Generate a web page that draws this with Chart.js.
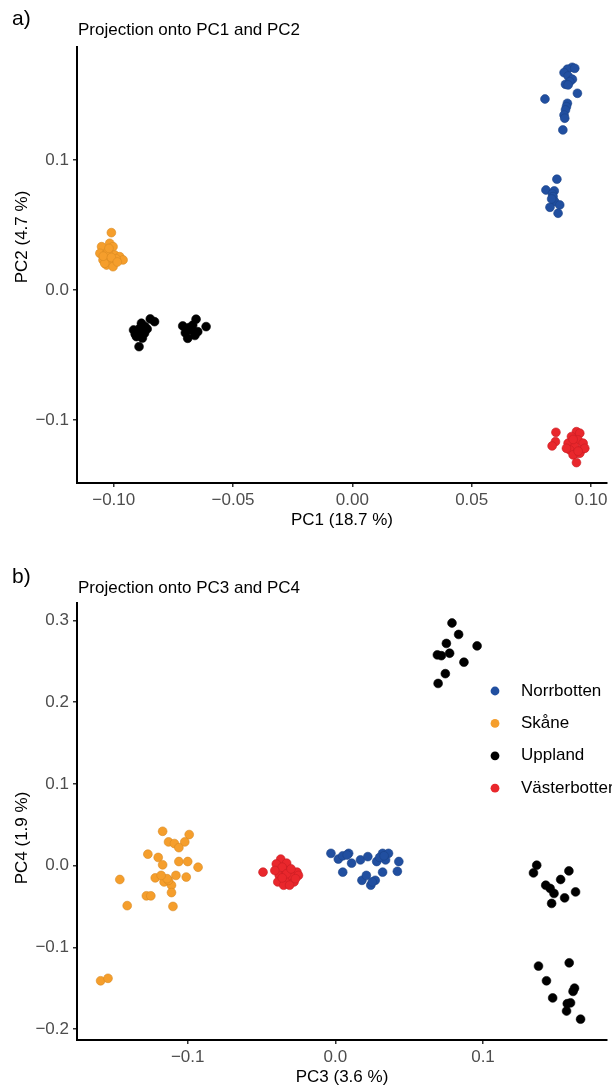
<!DOCTYPE html>
<html lang="sv">
<head>
<meta charset="UTF-8">
<title>PCA projections</title>
<script src="https://cdn.jsdelivr.net/npm/chart.js"></script>
<style>
  html, body { margin: 0; padding: 0; background: #fff; }
  #page { position: relative; width: 612px; height: 1087px; overflow: hidden;
          font-family: "Liberation Sans", Arial, Helvetica, sans-serif; color: #000; }
  #page canvas { position: absolute; left: 0; }
  .tag { position: absolute; font-size: 21px; line-height: 1; }
  .ttl { position: absolute; font-size: 17px; line-height: 1; white-space: nowrap; }
  .ytl { position: absolute; font-size: 17px; line-height: 1; white-space: nowrap;
         transform: translate(-50%, -50%) rotate(-90deg); }
</style>
</head>
<body>
<div id="page">
  <canvas id="pcA" width="612" height="545" style="top:0"></canvas>
  <canvas id="pcB" width="612" height="545" style="top:545px"></canvas>
  <div class="tag" style="left:12px;top:7px">a)</div>
  <div class="ttl" style="left:78px;top:21px">Projection onto PC1 and PC2</div>
  <div class="ytl" style="left:20.5px;top:237px">PC2 (4.7 %)</div>
  <div class="tag" style="left:12px;top:565px">b)</div>
  <div class="ttl" style="left:78px;top:579px">Projection onto PC3 and PC4</div>
  <div class="ytl" style="left:20.5px;top:838px">PC4 (1.9 %)</div>
</div>

<script>
// --- data -------------------------------------------------------------
const groups = ['Norrbotten', 'Skåne', 'Uppland', 'Västerbotten'];

// panel a: [PC1, PC2]
const pc12Norrbotten = [
  [0.0921,0.1713],[0.0901,0.1698],[0.0887,0.1672],[0.0932,0.1705],[0.0904,0.1646],
  [0.0922,0.1621],[0.0911,0.1602],[0.0893,0.1582],[0.0904,0.1577],[0.0943,0.1513],
  [0.0807,0.1469],[0.0901,0.1436],[0.0897,0.1410],[0.0893,0.1385],[0.0887,0.1346],
  [0.0890,0.1321],[0.0882,0.1231],
  [0.0857,0.0852],[0.0811,0.0769],[0.0846,0.0762],[0.0838,0.0740],[0.0841,0.0718],
  [0.0848,0.0679],[0.0869,0.0654],[0.0828,0.0636],[0.0862,0.0590],[0.0835,0.0700]
];
const pc12Skane = [
  [-0.1010,0.0441],[-0.1051,0.0333],[-0.1017,0.0359],[-0.1003,0.0333],[-0.1058,0.0282],
  [-0.1030,0.0282],[-0.0996,0.0269],[-0.1045,0.0231],[-0.1017,0.0218],[-0.0975,0.0256],
  [-0.0961,0.0231],[-0.1030,0.0192],[-0.1003,0.0179],[-0.1038,0.0205],[-0.1024,0.0300],
  [-0.0990,0.0240],[-0.1044,0.0260],[-0.1010,0.0250],[-0.0985,0.0215],[-0.1020,0.0320]
];
const pc12Uppland = [
  [-0.0829,-0.0244],[-0.0847,-0.0223],[-0.0884,-0.0256],[-0.0917,-0.0308],[-0.0891,-0.0295],
  [-0.0871,-0.0333],[-0.0905,-0.0359],[-0.0894,-0.0436],[-0.0860,-0.0300],[-0.0910,-0.0340],
  [-0.0880,-0.0370],[-0.0870,-0.0280],[-0.0900,-0.0320],
  [-0.0655,-0.0225],[-0.0613,-0.0282],[-0.0711,-0.0277],[-0.0676,-0.0308],[-0.0690,-0.0372],
  [-0.0648,-0.0321],[-0.0669,-0.0270],[-0.0700,-0.0330],[-0.0660,-0.0350],[-0.0685,-0.0290]
];
const pc12Vasterbotten = [
  [0.0853,-0.1095],[0.0851,-0.1167],[0.0837,-0.1200],[0.0939,-0.1090],[0.0953,-0.1102],
  [0.0918,-0.1128],[0.0946,-0.1154],[0.0967,-0.1179],[0.0904,-0.1179],[0.0932,-0.1205],
  [0.0960,-0.1231],[0.0911,-0.1231],[0.0939,-0.1256],[0.0925,-0.1269],[0.0953,-0.1256],
  [0.0939,-0.1328],[0.0897,-0.1218],[0.0974,-0.1218],[0.0925,-0.1150],[0.0946,-0.1240]
];

// panel b: [PC3, PC4]
const pc34Norrbotten = [
  [-0.003,0.015],[0.002,0.008],[0.005,0.012],[0.009,0.015],[0.011,0.003],[0.017,0.007],
  [0.022,0.011],[0.028,0.005],[0.032,0.015],[0.036,0.015],[0.034,0.007],[0.043,0.005],
  [0.005,-0.008],[0.032,-0.008],[0.042,-0.007],[0.018,-0.018],[0.021,-0.012],[0.024,-0.024],
  [0.027,-0.018],[0.008,0.013],[0.030,0.010],[0.025,-0.020],[0.033,0.012]
];
const pc34Skane = [
  [-0.117,0.042],[-0.099,0.038],[-0.113,0.029],[-0.109,0.027],[-0.102,0.029],[-0.106,0.022],
  [-0.127,0.014],[-0.120,0.010],[-0.117,0.001],[-0.106,0.005],[-0.100,0.005],[-0.093,-0.002],
  [-0.146,-0.017],[-0.122,-0.015],[-0.108,-0.012],[-0.101,-0.014],[-0.116,-0.020],[-0.111,-0.024],
  [-0.113,-0.018],[-0.128,-0.037],[-0.125,-0.037],[-0.111,-0.033],[-0.141,-0.049],[-0.110,-0.050],
  [-0.159,-0.141],[-0.154,-0.138],[-0.114,-0.016],[-0.118,-0.012]
];
const pc34Uppland = [
  [0.079,0.297],[0.0835,0.283],[0.0752,0.272],[0.096,0.269],[0.0691,0.258],
  [0.0718,0.257],[0.0774,0.260],[0.0871,0.249],[0.0745,0.235],[0.0696,0.223],
  [0.1364,0.0005],[0.1342,-0.0089],[0.1582,-0.0065],[0.1526,-0.017],[0.1425,-0.024],
  [0.1455,-0.028],[0.1481,-0.0341],[0.1627,-0.0322],[0.1553,-0.0395],[0.1465,-0.0463],
  [0.1376,-0.123],[0.1584,-0.119],[0.143,-0.141],[0.162,-0.150],[0.161,-0.154],
  [0.1472,-0.162],[0.1571,-0.169],[0.1593,-0.168],[0.1566,-0.178],[0.1661,-0.188]
];
const pc34Vasterbotten = [
  [-0.049,-0.008],[-0.037,0.008],[-0.040,0.002],[-0.033,0.003],[-0.026,-0.008],
  [-0.038,-0.012],[-0.031,-0.018],[-0.039,-0.020],[-0.035,-0.024],[-0.029,-0.014],
  [-0.025,-0.012],[-0.034,-0.006],[-0.036,-0.002],[-0.028,-0.020],[-0.031,-0.024],
  [-0.033,-0.010],[-0.036,-0.015],[-0.030,-0.004],[-0.041,-0.006],[-0.027,-0.016]
];

// axes
const pc1Ticks = [-0.10, -0.05, 0, 0.05, 0.10];
const pc1TickLabels = ['\u22120.10', '\u22120.05', '0.00', '0.05', '0.10'];
const pc2Ticks = [-0.1, 0, 0.1];
const pc2TickLabels = ['\u22120.1', '0.0', '0.1'];
const pc3Ticks = [-0.1, 0, 0.1];
const pc3TickLabels = ['\u22120.1', '0.0', '0.1'];
const pc4Ticks = [-0.2, -0.1, 0, 0.1, 0.2, 0.3];
const pc4TickLabels = ['\u22120.2', '\u22120.1', '0.0', '0.1', '0.2', '0.3'];
const pc1Range = [-0.1154, 0.1067];
const pc2Range = [-0.1485, 0.1869];
const pc3Range = [-0.1750, 0.1840];
const pc4Range = [-0.2135, 0.3215];

// --- style ------------------------------------------------------------
const FONT = '"Liberation Sans", Arial, Helvetica, sans-serif';
const fills = ['#214FA0', '#F59E2C', '#000000', '#E9272C'];
const edges = ['#1B4388', '#D98A22', '#000000', '#C81F24'];

Chart.defaults.font.family = FONT;
Chart.defaults.font.size = 17;
Chart.defaults.animation = false;

// legend drawn inside the panel, like the original
const insideLegend = {
  id: 'insideLegend',
  afterDraw(chart, args, o) {
    if (!o.show) return;
    const ctx = chart.ctx;
    ctx.save();
    ctx.font = '17px ' + FONT;
    ctx.textBaseline = 'middle';
    chart.data.datasets.forEach((ds, i) => {
      const y = o.top + i * o.step;
      ctx.beginPath();
      ctx.arc(o.dotX, y, 4.4, 0, Math.PI * 2);
      ctx.fillStyle = ds.backgroundColor;
      ctx.fill();
      ctx.fillStyle = '#000';
      ctx.fillText(ds.label, o.textX, y);
    });
    ctx.restore();
  }
};

function makeAxis(ticks, labels, range, title, isX, boxSize, titlePad) {
  return {
    type: 'linear',
    min: range[0],
    max: range[1],
    afterBuildTicks: s => { s.ticks = ticks.map(v => ({ value: v })); },
    afterFit: s => {
      if (isX) s.height = boxSize; else s.width = boxSize;
      s.paddingLeft = s.paddingRight = s.paddingTop = s.paddingBottom = 0;
    },
    ticks: {
      autoSkip: false, maxRotation: 0, color: '#4D4D4D', padding: isX ? 3 : 4,
      font: { size: 17 },
      callback: (v, i) => labels[i]
    },
    grid: { drawOnChartArea: false, drawTicks: true, tickLength: 4,
            tickWidth: 1.5, tickColor: '#333333', lineWidth: 1.5, color: '#333333' },
    border: { display: true, color: '#000', width: 2 },
    // y titles are placed as page text (see .ytl), x titles by Chart.js
    title: { display: isX, text: title, color: '#000', font: { size: 17 }, padding: titlePad }
  };
}

function makeDatasets(lists) {
  return groups.map((g, i) => ({
    label: g,
    data: lists[i].map(p => ({ x: p[0], y: p[1] })),
    backgroundColor: fills[i],
    borderColor: edges[i],
    borderWidth: 0.6,
    pointRadius: 4.4,
    pointHoverRadius: 4.4
  }));
}

new Chart(document.getElementById('pcA'), {
  type: 'scatter',
  data: { datasets: makeDatasets([pc12Norrbotten, pc12Skane, pc12Uppland, pc12Vasterbotten]) },
  options: {
    responsive: false,
    devicePixelRatio: 1,
    layout: { padding: { top: 47, right: 3, left: 0, bottom: 0 } },
    scales: {
      x: makeAxis(pc1Ticks, pc1TickLabels, pc1Range, 'PC1 (18.7 %)', true, 62, { top: 0, bottom: 14 }),
      y: makeAxis(pc2Ticks, pc2TickLabels, pc2Range, 'PC2 (4.7 %)', false, 77, 0)
    },
    plugins: { legend: { display: false }, tooltip: { enabled: false } }
  }
});

new Chart(document.getElementById('pcB'), {
  type: 'scatter',
  data: { datasets: makeDatasets([pc34Norrbotten, pc34Skane, pc34Uppland, pc34Vasterbotten]) },
  options: {
    responsive: false,
    devicePixelRatio: 1,
    layout: { padding: { top: 58, right: 3, left: 0, bottom: 0 } },
    scales: {
      x: makeAxis(pc3Ticks, pc3TickLabels, pc3Range, 'PC3 (3.6 %)', true, 50, { top: 0, bottom: 2 }),
      y: makeAxis(pc4Ticks, pc4TickLabels, pc4Range, 'PC4 (1.9 %)', false, 77, 0)
    },
    plugins: {
      legend: { display: false },
      tooltip: { enabled: false },
      insideLegend: { show: true, dotX: 495, textX: 521, top: 146, step: 32.4 }
    }
  },
  plugins: [insideLegend]
});
</script>
</body>
</html>
